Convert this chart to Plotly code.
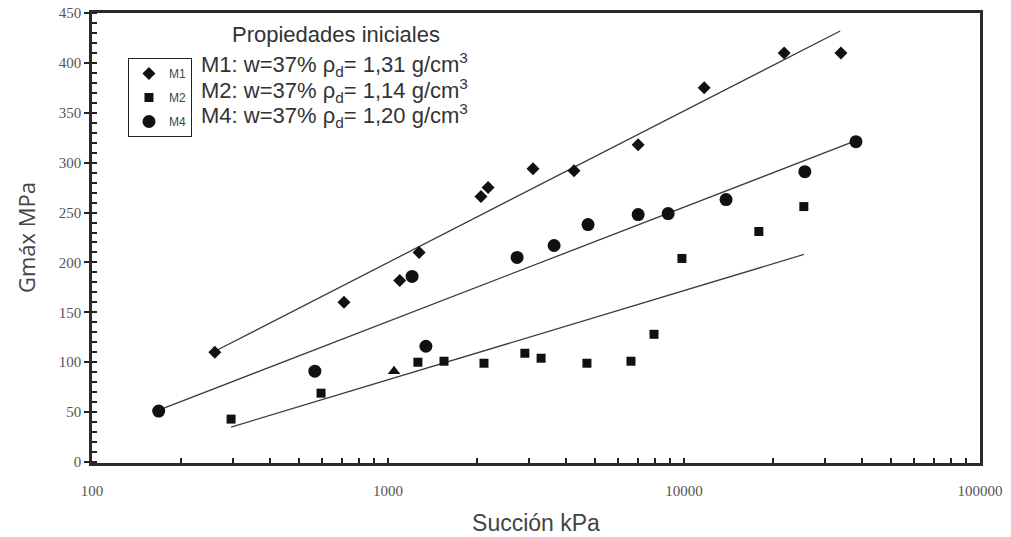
import plotly.graph_objects as go

# --- data ---
m1_x = [260, 710, 1096, 1274, 2061, 2178, 3090, 4250, 7000, 11700, 21800, 33900]
m1_y = [110, 160, 182, 210, 266, 275, 294, 292, 318, 375, 410, 410]

m2_x = [295, 594, 1262, 1546, 2110, 2900, 3290, 4700, 6620, 7920, 9840, 17900, 25400]
m2_y = [43, 69, 100, 101, 99, 109, 104, 99, 101, 128, 204, 231, 256]

m4_x = [168, 566, 1206, 1343, 2730, 3640, 4740, 7000, 8840, 13870, 25600, 38100]
m4_y = [51, 91, 186, 116, 205, 217, 238, 248, 249, 263, 291, 321]

extra_x = [1048]
extra_y = [91]

# trend lines (end points)
t1_x = [260, 33700]
t1_y = [111, 432]
t2_x = [295, 25400]
t2_y = [35, 208]
t4_x = [168, 38100]
t4_y = [52, 322]

x_tickvals = [100, 1000, 10000, 100000]
x_ticktext = ["100", "1000", "10000", "100000"]

props_title = "Propiedades iniciales"
props_lines = [
    "M1: w=37% ρ<sub>d</sub>= 1,31 g/cm<sup>3</sup>",
    "M2: w=37% ρ<sub>d</sub>= 1,14 g/cm<sup>3</sup>",
    "M4: w=37% ρ<sub>d</sub>= 1,20 g/cm<sup>3</sup>",
]

ink = "#111111"
line_col = "#3a3a3a"
sans = "Liberation Sans, Arial, sans-serif"
serif = "Liberation Serif, Times New Roman, serif"

fig = go.Figure()

for tx, ty in [(t1_x, t1_y), (t4_x, t4_y), (t2_x, t2_y)]:
    fig.add_trace(go.Scatter(x=tx, y=ty, mode="lines", showlegend=False,
                             line=dict(color=line_col, width=1.3), hoverinfo="skip"))

fig.add_trace(go.Scatter(x=m1_x, y=m1_y, mode="markers", name="M1", legendgroup="a",
                         marker=dict(symbol="diamond", size=10, color=ink)))
fig.add_trace(go.Scatter(x=m2_x, y=m2_y, mode="markers", name="M2", legendgroup="b",
                         marker=dict(symbol="square", size=9, color=ink)))
fig.add_trace(go.Scatter(x=m4_x, y=m4_y, mode="markers", name="M4", legendgroup="c",
                         marker=dict(symbol="circle", size=13, color=ink)))
fig.add_trace(go.Scatter(x=extra_x, y=extra_y, mode="markers", showlegend=False,
                         marker=dict(symbol="triangle-up", size=11, color=ink)))

H = 450.0
fig.add_annotation(x=0.275, y=(463 - 35) / H, xref="paper", yref="paper", text=props_title,
                   showarrow=False, xanchor="center", yanchor="middle",
                   font=dict(family=sans, size=22, color="#333"))
for i, t in enumerate(props_lines):
    fig.add_annotation(x=0.121, y=(463 - (65 + 25 * i)) / H, xref="paper", yref="paper", text=t,
                       showarrow=False, xanchor="left", yanchor="middle",
                       font=dict(family=sans, size=22, color="#333"))

fig.add_annotation(x=(26 - 92) / 888, y=0.5, xref="paper", yref="paper", text="Gmáx MPa",
                   showarrow=False, textangle=-90, xanchor="center", yanchor="middle",
                   font=dict(family="Open Sans, sans-serif", size=22, color="#444"))

fig.update_layout(
    width=1011, height=537,
    margin=dict(l=92, r=31, t=13, b=74),
    paper_bgcolor="white", plot_bgcolor="white",
    legend=dict(x=0.0405, y=0.9, xanchor="left", yanchor="top",
                bordercolor="#222", borderwidth=1, bgcolor="white",
                font=dict(family=sans, size=12, color="#444"),
                tracegroupgap=5, itemwidth=30),
    xaxis=dict(type="log", range=[2, 5], tickmode="array",
               tickvals=x_tickvals, ticktext=x_ticktext, automargin=False,
               showgrid=False, zeroline=False,
               showline=True, linecolor="#2a2a2a", linewidth=2.5, mirror=True,
               ticks="inside", ticklen=5, tickwidth=1.5, tickcolor="#222",
               minor=dict(ticks="inside", ticklen=5, tickwidth=1.5, tickcolor="#222", dtick="D1", showgrid=False),
               tickfont=dict(family=serif, size=15, color="#555"),
               ticklabelstandoff=12,
               title=dict(text="Succión kPa", font=dict(family=sans, size=23, color="#444"), standoff=18)),
    yaxis=dict(range=[-1, 450], dtick=50, tick0=0, automargin=False,
               showgrid=False, zeroline=False,
               showline=True, linecolor="#2a2a2a", linewidth=2.5, mirror=True,
               ticks="outside", ticklen=5, tickwidth=1.5, tickcolor="#222",
               minor=dict(ticks="inside", ticklen=5, tickwidth=1.5, tickcolor="#222", dtick=10, showgrid=False),
               tickfont=dict(family=serif, size=15, color="#555")),
)

fig.write_html("out.html")
